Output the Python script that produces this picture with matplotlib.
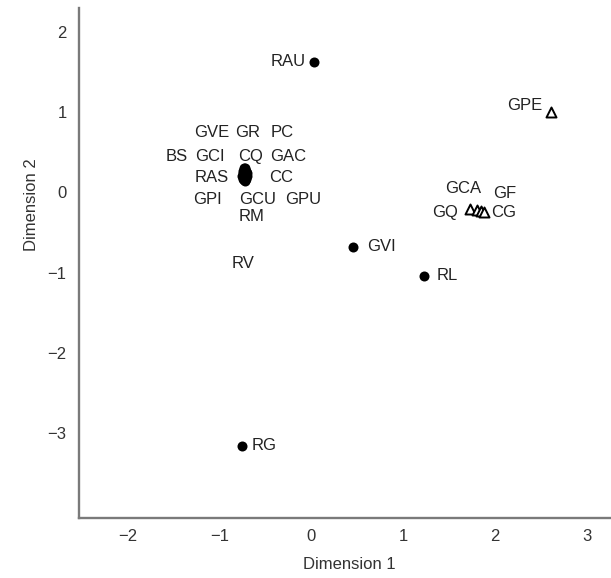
import numpy as np
import matplotlib
matplotlib.use("Agg")
import matplotlib.pyplot as plt

plt.rcParams["font.family"] = ["Liberation Sans", "DejaVu Sans"]

# ---- data ----------------------------------------------------------------
# filled dots
DOT_NAMES = ["RAU", "GVI", "RL", "RG",
             "GVE", "GR", "PC", "BS", "GCI", "CQ", "GAC",
             "RAS", "CC", "GPI", "GCU", "GPU", "RM", "RV"]
DOT_X = [0.03, 0.45, 1.22, -0.76,
         -0.73, -0.72, -0.71, -0.74, -0.75, -0.72, -0.70,
         -0.76, -0.70, -0.75, -0.73, -0.71, -0.72, -0.73]
DOT_Y = [1.63, -0.68, -1.04, -3.16,
         0.30, 0.31, 0.27, 0.24, 0.27, 0.28, 0.24,
         0.21, 0.20, 0.17, 0.15, 0.17, 0.14, 0.19]

# open triangles
TRI_NAMES = ["GPE", "GQ", "GCA", "GF", "CG"]
TRI_X = [2.61, 1.73, 1.80, 1.85, 1.88]
TRI_Y = [1.00, -0.21, -0.22, -0.23, -0.24]

XTICKS = [-2, -1, 0, 1, 2, 3]
YTICKS = [2, 1, 0, -1, -2, -3]

# ---- label placement (pixel offsets, ha) ---------------------------------
SINGLE_LABELS = {
    "RAU": (-8, 0, "right"),
    "GVI": (14, 0, "left"),
    "RL": (13, 0, "left"),
    "RG": (10, 0, "left"),
    "GPE": (-9, 7, "right"),
    "GQ": (-25, -3, "center"),
    "GCA": (-14, 22, "center"),
    "GF": (23, 17, "center"),
    "CG": (19, -1, "center"),
}
# labels of the tight cluster, offsets from the cluster centre
CLUSTER_LABELS = {
    "GVE": (-33, 42), "GR": (3, 42), "PC": (37, 42),
    "BS": (-68, 18), "GCI": (-35, 18), "CQ": (6, 18), "GAC": (43, 18),
    "RAS": (-33, -3), "CC": (36, -3),
    "GPI": (-37, -25), "GCU": (13, -25), "GPU": (58, -25),
    "RM": (7, -42), "RV": (-2, -89),
}

fig = plt.figure(figsize=(6.11, 5.78), dpi=100)
ax = fig.add_axes([79 / 611, 60 / 578, 531 / 611, 510 / 578])

ax.scatter(DOT_X, DOT_Y, s=52, color="black", zorder=3, linewidths=0)
ax.scatter(TRI_X, TRI_Y, s=52, marker="^", facecolor="white",
           edgecolor="black", linewidths=1.4, zorder=3)

txt_kw = dict(textcoords="offset pixels", va="center", fontsize=12,
              color="#222222")
names = DOT_NAMES + TRI_NAMES
xs = DOT_X + TRI_X
ys = DOT_Y + TRI_Y
cluster_idx = [names.index(n) for n in CLUSTER_LABELS]
cx = np.mean([xs[i] for i in cluster_idx])
cy = np.mean([ys[i] for i in cluster_idx])

for name, x, y in zip(names, xs, ys):
    if name in SINGLE_LABELS:
        dx, dy, ha = SINGLE_LABELS[name]
        ax.annotate(name, (x, y), xytext=(dx, dy), ha=ha, **txt_kw)
    else:
        dx, dy = CLUSTER_LABELS[name]
        ax.annotate(name, (cx, cy), xytext=(dx, dy), ha="center", **txt_kw)

ax.set_xlim(-2.53, 3.25)
ax.set_ylim(-4.06, 2.30)
ax.set_xticks(XTICKS)
ax.set_yticks(YTICKS)
ax.set_xticklabels(["\u2212%d" % -t if t < 0 else str(t) for t in XTICKS])
ax.set_yticklabels(["\u2212%d" % -t if t < 0 else str(t) for t in YTICKS])
ax.tick_params(length=0, labelsize=12, labelcolor="#333333")
ax.tick_params(axis="x", pad=8)
ax.tick_params(axis="y", pad=9)

for side in ["top", "right"]:
    ax.spines[side].set_visible(False)
for side in ["left", "bottom"]:
    ax.spines[side].set_color("#7a7a7a")
    ax.spines[side].set_linewidth(1.7)

ax.set_xlabel("Dimension 1", fontsize=12, color="#333333")
ax.set_ylabel("Dimension 2", fontsize=12, color="#333333")
ax.xaxis.set_label_coords(0.51, -0.077)
ax.yaxis.set_label_coords(-0.076, 0.614)

fig.savefig("out.png", dpi=100)
